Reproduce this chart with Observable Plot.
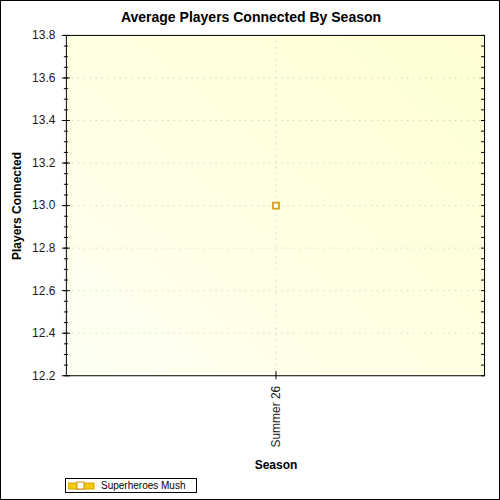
<!DOCTYPE html>
<html>
<head>
<meta charset="utf-8">
<script src="https://cdn.jsdelivr.net/npm/d3@7"></script>
<script src="https://cdn.jsdelivr.net/npm/@observablehq/plot@0.6"></script>
<style>
  html, body { margin: 0; padding: 0; background: #fff; }
  #wrap { position: relative; width: 500px; height: 500px; box-sizing: border-box; border: 1px solid #000; font-family: Arial, "Liberation Sans", sans-serif; overflow: hidden; }
  #chart { position: absolute; left: -1px; top: -1px; }
  .title { position: absolute; left: 0; width: 500px; top: 8px; text-align: center; font-weight: bold; font-size: 14px; color: #000; }
  .xlabel { position: absolute; left: 175px; width: 200px; top: 457px; text-align: center; font-weight: bold; font-size: 12px; color: #000; }
  .ylabel { position: absolute; left: 16px; top: 205px; transform: translate(-50%, -50%) rotate(-90deg); white-space: nowrap; font-weight: bold; font-size: 12px; color: #000; }
  .legend { position: absolute; left: 64px; top: 477px; width: 130px; height: 13px; border: 1px solid #000; box-sizing: content-box; font-size: 10px; color: #000; }
  .legend svg { position: absolute; left: 2px; top: 2px; }
  .legend span { position: absolute; left: 35px; top: 0px; line-height: 13px; }
</style>
</head>
<body>
<div id="wrap">
  <div id="chart"></div>
  <div class="title">Average Players Connected By Season</div>
  <div class="xlabel">Season</div>
  <div class="ylabel">Players Connected</div>
  <div class="legend"></div>
</div>
<script>
const seasons = ["Summer 26"];
const avgPlayers = [13.0];
const seriesName = "Superheroes Mush";
const yTicks = [12.2, 12.4, 12.6, 12.8, 13.0, 13.2, 13.4, 13.6, 13.8];
const yDomain = [12.2, 13.8];
const yMinor = d3.ticks(12.2, 13.8, 32);

const data = seasons.map((s, i) => ({season: s, value: avgPlayers[i]}));

const gradientDefs = () => {
  const defs = d3.create("svg:defs");
  const lg = defs.append("linearGradient").attr("id", "bgGrad")
    .attr("x1", "0").attr("y1", "1").attr("x2", "1").attr("y2", "0");
  lg.append("stop").attr("offset", "0").attr("stop-color", "#fffff3");
  lg.append("stop").attr("offset", "1").attr("stop-color", "#ffffd2");
  return defs.node();
};

const chart = Plot.plot({
  width: 500,
  height: 500,
  marginLeft: 66,
  marginRight: 15,
  marginTop: 35,
  marginBottom: 124,
  x: {type: "point", domain: seasons, axis: null, label: null},
  y: {domain: yDomain, axis: null, label: null},
  style: {fontFamily: "Arial, 'Liberation Sans', sans-serif", fontSize: "12px", color: "#1a1a1a", background: "transparent"},
  marks: [
    gradientDefs,
    Plot.frame({fill: "url(#bgGrad)"}),
    Plot.ruleY(yTicks.slice(1, -1), {stroke: "#c4c4c4", strokeDasharray: "1,5"}),
    Plot.ruleX(seasons, {stroke: "#c4c4c4", strokeDasharray: "1,5"}),
    Plot.frame({stroke: "#000", strokeWidth: 1}),
    Plot.axisY({ticks: yMinor, tickSize: 4, dx: 2, tickFormat: () => "", label: null, stroke: "#000"}),
    Plot.axisY({ticks: yTicks, tickSize: 8, dx: 4, tickFormat: () => "", label: null, stroke: "#000"}),
    Plot.axisY({ticks: yTicks, tickSize: 0, tickPadding: 11, tickFormat: d => d.toFixed(1), label: null, fontSize: 12}),
    Plot.axisY({anchor: "right", ticks: yMinor, tickSize: 4, dx: -4, tickFormat: () => "", label: null, stroke: "#000"}),
    Plot.axisX({ticks: seasons, tickSize: 8, dy: -4, tickFormat: () => "", label: null, stroke: "#000"}),
    Plot.axisX({ticks: seasons, tickSize: 0, tickPadding: 10, tickRotate: -90, label: null, fontSize: 12}),
    Plot.dot(data, {x: "season", y: "value", symbol: "square", r: 3.4, stroke: "#d4a017", fill: "#fff", strokeWidth: 1.8})
  ]
});
document.getElementById("chart").appendChild(chart);

const legend = document.querySelector(".legend");
legend.innerHTML = `<svg width="28" height="10">
  <rect x="0" y="2" width="26" height="6" fill="#f2cc00" stroke="#d9a400" stroke-width="1"/>
  <rect x="9" y="1" width="7" height="7" fill="#fff" stroke="#c98e10" stroke-width="1"/>
</svg><span>${seriesName}</span>`;
</script>
</body>
</html>
